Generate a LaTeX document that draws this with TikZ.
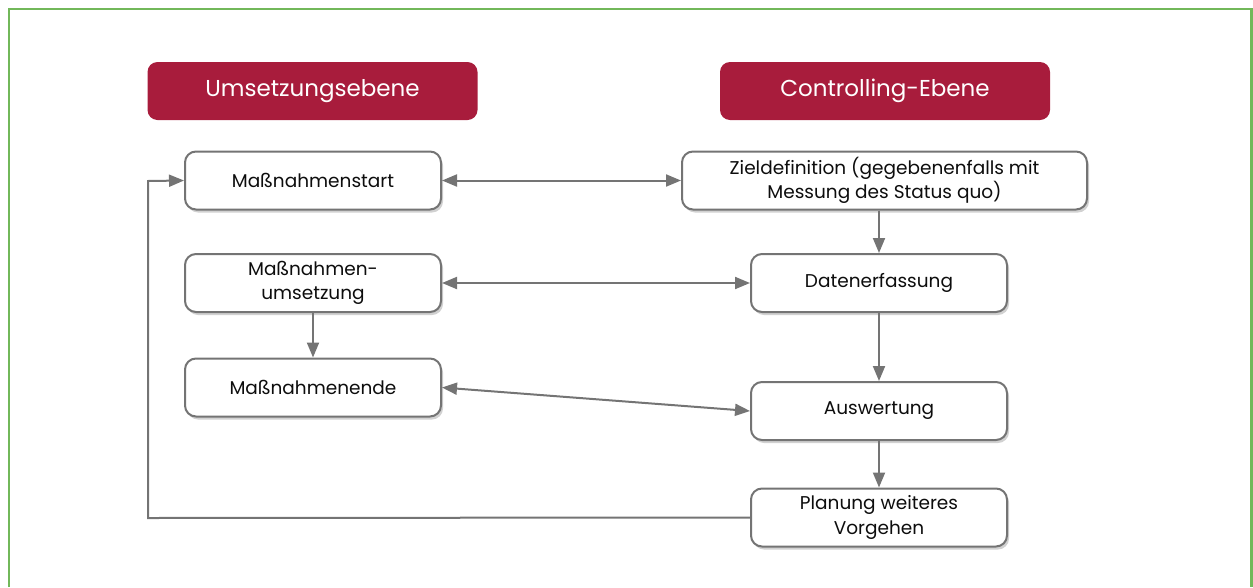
\documentclass[tikz,border=0pt]{standalone}
\usepackage{fontspec}
\setmainfont{Poppins}
\usetikzlibrary{arrows.meta,shadows}
\definecolor{crimson}{HTML}{A81C3C}
\definecolor{frame}{HTML}{72B85A}
\definecolor{linegray}{HTML}{747474}
\tikzset{
  hdr/.style={fill=crimson, draw=none, rounded corners=10pt, text=white, font=\fontsize{23}{27}\selectfont, minimum width=330pt, minimum height=58pt, inner sep=0pt},
  stepbox/.style={draw=linegray, line width=2pt, fill=white, rounded corners=11pt, font=\fontsize{18.5}{24.5}\selectfont, align=center, minimum height=58pt, inner sep=0pt, text=black!95, drop shadow={shadow xshift=2pt, shadow yshift=-3pt, fill=black!30, opacity=0.6}},
  conn/.style={draw=linegray, line width=2pt},
  tip/.style={-{Triangle[length=15pt,width=12pt]}},
  dtip/.style={{Triangle[length=15pt,width=12pt]}-{Triangle[length=15pt,width=12pt]}},
}
\begin{document}
\begin{tikzpicture}[x=1pt,y=-1pt]
\useasboundingbox (0,0) rectangle (1253,587);
\draw[frame, line width=2.5pt] (9,587) -- (9,9) -- (1251.5,9) -- (1251.5,587);

\node[hdr] (h1) at (312.5,91) {Umsetzungsebene};
\node[hdr] (h2) at (885,91) {Controlling-Ebene};

\node[stepbox, minimum width=256pt] (start) at (313,180.5) {Maßnahmenstart};
\node[stepbox, minimum width=405pt] (ziel) at (884.5,180.5) {Zieldefinition (gegebenenfalls mit\\Messung des Status quo)};
\node[stepbox, minimum width=256pt] (ums) at (313,283) {Maßnahmen-\\umsetzung};
\node[stepbox, minimum width=256pt] (daten) at (879,283) {Datenerfassung};
\node[stepbox, minimum width=256pt] (ende) at (313,387.5) {Maßnahmenende};
\node[stepbox, minimum width=256pt] (ausw) at (879,411) {Auswertung};
\node[stepbox, minimum width=256pt] (plan) at (879,517.5) {Planung weiteres\\Vorgehen};

\coordinate (c1) at (148,518);
\coordinate (c2) at (148,181);

\draw[conn, dtip] (start.east) -- (ziel.west);
\draw[conn, dtip] (ums.east) -- (daten.west);
\draw[conn, dtip] (ende.east) -- (ausw.west);
\draw[conn, tip] (ums.south) -- (ende.north);
\draw[conn, tip] (ziel.south -| daten.north) -- (daten.north);
\draw[conn, tip] (daten.south) -- (ausw.north);
\draw[conn, tip] (ausw.south) -- (plan.north);
\draw[conn, tip] (plan.west) -- (c1) -- (c2) -- (start.west);
\end{tikzpicture}
\end{document}
